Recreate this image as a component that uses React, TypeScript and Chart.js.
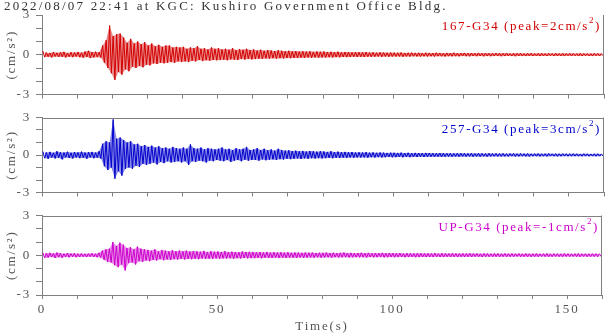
import React, { useEffect, useRef } from "react";
import { Chart, registerables } from "chart.js";

Chart.register(...registerables);

// ---------------- DATA ----------------
const TITLE = "2022/08/07 22:41 at KGC: Kushiro Government Office Bldg.";
const CHANNEL_NAMES = ["167-G34", "257-G34", "UP-G34"];
const PEAK_LABELS = ["2", "3", "-1"];
const UNIT_LABEL = "(cm/s²)";
const X_TITLE = "Time(s)";
const X_TICK_LABELS = [0, 50, 100, 150];
const Y_TICK_LABELS = [-3, 0, 3];
const X_MIN = 0;
const X_MAX = 160;
const Y_MIN = -3;
const Y_MAX = 3;

// per-second maximum / minimum of each trace (cm/s²), bins 0..159 s
const ACC_167_MAX = [
  0.28, 0.16, 0.14, 0.2, 0.15, 0.18, 0.22, 0.14, 0.19, 0.17,
  0.21, 0.16, 0.24, 0.3, 0.2, 0.23, 0.19, 0.7, 1.1, 2.2,
  1.4, 1.55, 1.6, 1.3, 0.9, 1.2, 0.85, 1.0, 0.8, 0.95,
  0.7, 0.85, 0.65, 0.75, 0.6, 0.7, 0.7, 0.55, 0.6, 0.55,
  0.6, 0.45, 0.55, 0.5, 0.65, 0.45, 0.5, 0.4, 0.55, 0.45,
  0.5, 0.4, 0.45, 0.38, 0.5, 0.35, 0.42, 0.38, 0.45, 0.35,
  0.4, 0.32, 0.38, 0.3, 0.35, 0.33, 0.28, 0.34, 0.3, 0.27,
  0.3, 0.26, 0.28, 0.25, 0.27, 0.24, 0.26, 0.22, 0.25, 0.23,
  0.24, 0.21, 0.22, 0.2, 0.23, 0.19, 0.21, 0.2, 0.18, 0.2,
  0.19, 0.18, 0.2, 0.17, 0.18, 0.16, 0.18, 0.17, 0.16, 0.17,
  0.16, 0.15, 0.17, 0.14, 0.15, 0.16, 0.14, 0.15, 0.13, 0.15,
  0.14, 0.13, 0.15, 0.14, 0.12, 0.14, 0.13, 0.15, 0.12, 0.13,
  0.14, 0.12, 0.13, 0.12, 0.14, 0.11, 0.13, 0.12, 0.11, 0.13,
  0.12, 0.11, 0.13, 0.1, 0.12, 0.11, 0.12, 0.1, 0.11, 0.12,
  0.1, 0.11, 0.12, 0.1, 0.11, 0.1, 0.12, 0.1, 0.11, 0.1,
  0.11, 0.1, 0.09, 0.11, 0.1, 0.1, 0.09, 0.11, 0.1, 0.09,
];
const ACC_167_MIN = [
  -0.18, -0.15, -0.2, -0.14, -0.17, -0.16, -0.2, -0.15, -0.18, -0.14,
  -0.19, -0.22, -0.17, -0.25, -0.2, -0.18, -0.21, -0.6, -1.0, -1.4,
  -1.9, -1.3, -1.5, -1.1, -1.25, -0.9, -1.0, -0.85, -0.95, -0.75,
  -0.8, -0.65, -0.7, -0.6, -0.65, -0.6, -0.55, -0.62, -0.5, -0.55,
  -0.5, -0.55, -0.45, -0.5, -0.4, -0.48, -0.42, -0.45, -0.4, -0.42,
  -0.4, -0.38, -0.42, -0.35, -0.37, -0.4, -0.33, -0.36, -0.32, -0.35,
  -0.33, -0.3, -0.32, -0.28, -0.3, -0.27, -0.3, -0.26, -0.28, -0.25,
  -0.26, -0.24, -0.25, -0.22, -0.24, -0.21, -0.23, -0.2, -0.22, -0.2,
  -0.21, -0.19, -0.2, -0.18, -0.19, -0.17, -0.18, -0.17, -0.16, -0.17,
  -0.16, -0.17, -0.15, -0.16, -0.15, -0.14, -0.16, -0.14, -0.15, -0.14,
  -0.14, -0.13, -0.15, -0.13, -0.14, -0.12, -0.13, -0.14, -0.12, -0.13,
  -0.12, -0.13, -0.11, -0.12, -0.13, -0.11, -0.12, -0.11, -0.12, -0.1,
  -0.11, -0.12, -0.1, -0.11, -0.1, -0.12, -0.1, -0.11, -0.1, -0.1,
  -0.11, -0.1, -0.09, -0.1, -0.11, -0.09, -0.1, -0.1, -0.09, -0.1,
  -0.09, -0.1, -0.09, -0.1, -0.08, -0.1, -0.09, -0.09, -0.1, -0.08,
  -0.09, -0.08, -0.1, -0.09, -0.08, -0.09, -0.1, -0.08, -0.09, -0.08,
];

const ACC_257_MAX = [
  0.28, 0.2, 0.25, 0.18, 0.3, 0.22, 0.2, 0.26, 0.19, 0.24,
  0.21, 0.27, 0.2, 0.23, 0.25, 0.2, 0.3, 0.9, 1.1, 1.0,
  2.85, 1.3, 1.4, 1.2, 1.0, 1.1, 0.85, 0.9, 0.7, 0.8,
  0.65, 0.75, 0.6, 0.7, 0.55, 0.6, 0.5, 0.65, 0.55, 0.5,
  0.6, 0.5, 0.85, 0.55, 0.5, 0.6, 0.45, 0.55, 0.5, 0.45,
  0.5, 0.6, 0.45, 0.5, 0.4, 0.55, 0.45, 0.5, 0.65, 0.4,
  0.45, 0.55, 0.4, 0.5, 0.38, 0.45, 0.35, 0.5, 0.4, 0.35,
  0.38, 0.32, 0.35, 0.3, 0.33, 0.28, 0.32, 0.3, 0.27, 0.3,
  0.28, 0.25, 0.3, 0.24, 0.27, 0.23, 0.25, 0.22, 0.24, 0.21,
  0.22, 0.2, 0.23, 0.19, 0.21, 0.18, 0.2, 0.19, 0.17, 0.19,
  0.18, 0.17, 0.19, 0.16, 0.18, 0.15, 0.17, 0.16, 0.15, 0.17,
  0.16, 0.15, 0.14, 0.16, 0.15, 0.14, 0.15, 0.13, 0.15, 0.14,
  0.14, 0.13, 0.15, 0.12, 0.14, 0.13, 0.12, 0.14, 0.12, 0.13,
  0.12, 0.13, 0.11, 0.12, 0.13, 0.11, 0.12, 0.11, 0.12, 0.1,
  0.11, 0.12, 0.1, 0.11, 0.12, 0.1, 0.11, 0.1, 0.11, 0.1,
  0.1, 0.11, 0.1, 0.09, 0.11, 0.1, 0.09, 0.1, 0.1, 0.09,
];
const ACC_257_MIN = [
  -0.25, -0.3, -0.2, -0.27, -0.22, -0.35, -0.2, -0.24, -0.28, -0.2,
  -0.25, -0.22, -0.3, -0.2, -0.26, -0.22, -0.28, -0.9, -1.2, -1.0,
  -1.9, -1.3, -1.65, -1.1, -1.0, -1.1, -0.85, -0.95, -0.7, -0.8,
  -0.7, -0.6, -0.75, -0.55, -0.65, -0.5, -0.6, -0.55, -0.5, -0.6,
  -0.5, -0.8, -0.5, -0.55, -0.45, -0.5, -0.6, -0.45, -0.5, -0.4,
  -0.45, -0.5, -0.4, -0.55, -0.45, -0.4, -0.5, -0.38, -0.45, -0.4,
  -0.4, -0.45, -0.35, -0.42, -0.38, -0.35, -0.4, -0.33, -0.36, -0.3,
  -0.33, -0.3, -0.28, -0.32, -0.27, -0.3, -0.26, -0.28, -0.25, -0.27,
  -0.25, -0.23, -0.26, -0.22, -0.24, -0.21, -0.23, -0.2, -0.22, -0.2,
  -0.2, -0.19, -0.21, -0.18, -0.2, -0.17, -0.19, -0.18, -0.16, -0.18,
  -0.17, -0.16, -0.18, -0.15, -0.17, -0.15, -0.16, -0.14, -0.16, -0.15,
  -0.14, -0.15, -0.13, -0.15, -0.14, -0.13, -0.14, -0.13, -0.14, -0.12,
  -0.13, -0.12, -0.14, -0.12, -0.13, -0.11, -0.13, -0.12, -0.11, -0.12,
  -0.12, -0.11, -0.12, -0.1, -0.12, -0.11, -0.1, -0.11, -0.12, -0.1,
  -0.1, -0.11, -0.1, -0.11, -0.09, -0.1, -0.11, -0.1, -0.09, -0.1,
  -0.1, -0.09, -0.1, -0.1, -0.09, -0.1, -0.09, -0.1, -0.09, -0.09,
];

const ACC_UP_MAX = [
  0.2, 0.15, 0.18, 0.14, 0.2, 0.16, 0.12, 0.17, 0.13, 0.15,
  0.12, 0.14, 0.11, 0.13, 0.15, 0.12, 0.18, 0.35, 0.45, 0.5,
  1.0, 0.7, 0.95, 0.8, 0.55, 0.6, 0.45, 0.65, 0.5, 0.45,
  0.4, 0.35, 0.45, 0.3, 0.4, 0.35, 0.3, 0.38, 0.3, 0.35,
  0.3, 0.35, 0.28, 0.32, 0.3, 0.27, 0.33, 0.25, 0.3, 0.27,
  0.28, 0.25, 0.3, 0.24, 0.27, 0.25, 0.23, 0.28, 0.24, 0.26,
  0.25, 0.22, 0.24, 0.21, 0.25, 0.2, 0.23, 0.21, 0.22, 0.2,
  0.22, 0.19, 0.21, 0.2, 0.18, 0.21, 0.19, 0.2, 0.17, 0.19,
  0.18, 0.2, 0.17, 0.19, 0.16, 0.18, 0.2, 0.17, 0.18, 0.16,
  0.17, 0.19, 0.16, 0.18, 0.15, 0.17, 0.16, 0.18, 0.15, 0.17,
  0.16, 0.15, 0.17, 0.14, 0.16, 0.15, 0.14, 0.16, 0.15, 0.14,
  0.15, 0.14, 0.16, 0.13, 0.15, 0.14, 0.13, 0.15, 0.14, 0.13,
  0.14, 0.13, 0.15, 0.13, 0.14, 0.12, 0.14, 0.13, 0.12, 0.14,
  0.13, 0.12, 0.14, 0.12, 0.13, 0.12, 0.13, 0.11, 0.13, 0.12,
  0.12, 0.13, 0.11, 0.12, 0.13, 0.11, 0.12, 0.12, 0.11, 0.13,
  0.12, 0.11, 0.12, 0.13, 0.11, 0.12, 0.11, 0.12, 0.12, 0.11,
];
const ACC_UP_MIN = [
  -0.2, -0.17, -0.14, -0.2, -0.15, -0.18, -0.13, -0.16, -0.12, -0.15,
  -0.13, -0.12, -0.14, -0.11, -0.13, -0.15, -0.17, -0.35, -0.5, -0.55,
  -0.75, -0.9, -0.7, -1.15, -0.6, -0.55, -0.7, -0.45, -0.5, -0.4,
  -0.45, -0.35, -0.4, -0.3, -0.38, -0.32, -0.35, -0.3, -0.33, -0.28,
  -0.32, -0.28, -0.3, -0.27, -0.3, -0.25, -0.28, -0.26, -0.27, -0.24,
  -0.26, -0.24, -0.25, -0.23, -0.26, -0.22, -0.24, -0.21, -0.23, -0.22,
  -0.22, -0.2, -0.23, -0.19, -0.21, -0.2, -0.19, -0.21, -0.18, -0.2,
  -0.19, -0.18, -0.2, -0.17, -0.19, -0.18, -0.17, -0.18, -0.16, -0.18,
  -0.17, -0.16, -0.18, -0.15, -0.17, -0.16, -0.15, -0.17, -0.16, -0.15,
  -0.16, -0.15, -0.17, -0.14, -0.16, -0.15, -0.14, -0.16, -0.15, -0.14,
  -0.15, -0.14, -0.13, -0.15, -0.14, -0.13, -0.15, -0.14, -0.13, -0.14,
  -0.13, -0.14, -0.12, -0.13, -0.14, -0.12, -0.13, -0.12, -0.14, -0.12,
  -0.13, -0.12, -0.13, -0.11, -0.12, -0.13, -0.11, -0.12, -0.12, -0.11,
  -0.12, -0.11, -0.12, -0.11, -0.12, -0.1, -0.12, -0.11, -0.11, -0.12,
  -0.11, -0.12, -0.1, -0.11, -0.12, -0.11, -0.1, -0.11, -0.12, -0.1,
  -0.11, -0.1, -0.11, -0.12, -0.1, -0.11, -0.11, -0.1, -0.11, -0.1,
];

// ---------------- STYLE ----------------
const FONT = "'Liberation Serif', 'Times New Roman', serif";
const AXIS_COLOR = "#808080";
const TEXT_COLOR = "#555555";
const TITLE_COLOR = "#333333";
const TRACE_COLORS = ["#d20000", "#0000cc", "#cc00cc"];
const TRACE_FILLS = ["rgba(210,0,0,0.45)", "rgba(0,0,204,0.45)", "rgba(204,0,204,0.45)"];

// zig-zag trace through the maximum and minimum of every one-second bin
function buildTrace(maxArr: number[], minArr: number[]) {
  const pts: { x: number; y: number }[] = [];
  maxArr.forEach((mx, i) => {
    pts.push({ x: i + 0.25, y: mx });
    pts.push({ x: i + 0.75, y: minArr[i] });
  });
  return pts;
}
function buildEnvelope(arr: number[], off: number) {
  return arr.map((v, i) => ({ x: i + off, y: v }));
}

type PanelProps = {
  index: number;
  top: number;
  height: number;
  padTop: number;
  xAxisHeight: number;
  maxArr: number[];
  minArr: number[];
  showTitle: boolean;
  showXLabels: boolean;
  topBorder: boolean;
};

function Panel(p: PanelProps) {
  const ref = useRef<HTMLCanvasElement>(null);
  useEffect(() => {
    const canvas = ref.current;
    if (!canvas) return;
    const color = TRACE_COLORS[p.index];
    const fillColor = TRACE_FILLS[p.index];
    const name = CHANNEL_NAMES[p.index];
    const peak = PEAK_LABELS[p.index];

    const decor = {
      id: "decor",
      beforeDraw(chart: any) {
        chart.ctx.letterSpacing = "1.8px";
      },
      afterDraw(chart: any) {
        const { ctx, chartArea: a } = chart;
        ctx.save();
        ctx.letterSpacing = "0px";
        ctx.strokeStyle = AXIS_COLOR;
        ctx.lineWidth = 1;
        ctx.beginPath();
        if (p.topBorder) {
          const ty = Math.round(a.top) + 0.5;
          ctx.moveTo(a.left, ty);
          ctx.lineTo(a.right, ty);
        }
        const rx = Math.round(a.right) - 0.5;
        ctx.moveTo(rx, a.top);
        ctx.lineTo(rx, a.bottom);
        ctx.stroke();

        ctx.textBaseline = "alphabetic";
        ctx.textAlign = "left";

        if (p.showTitle) {
          ctx.fillStyle = TITLE_COLOR;
          ctx.letterSpacing = "2.2px";
          ctx.font = `13px ${FONT}`;
          ctx.fillText(TITLE, 4, 10);
        }

        ctx.fillStyle = color;
        ctx.letterSpacing = "1.6px";
        const main = `${name} (peak=${peak}cm/s`;
        ctx.font = `13px ${FONT}`;
        const wClose = ctx.measureText(")").width;
        const wMain = ctx.measureText(main).width;
        ctx.font = `9px ${FONT}`;
        const wSup = ctx.measureText("2").width;
        let x = a.right - 3 - wClose - wSup - wMain;
        const y = a.top + 15;
        ctx.font = `13px ${FONT}`;
        ctx.fillText(main, x, y);
        x += wMain;
        ctx.font = `9px ${FONT}`;
        ctx.fillText("2", x, y - 7);
        x += wSup;
        ctx.font = `13px ${FONT}`;
        ctx.fillText(")", x, y);
        ctx.restore();
      },
    };

    const chart = new Chart(canvas, {
      type: "line",
      data: {
        datasets: [
          {
            label: name + " max",
            data: buildEnvelope(p.maxArr, 0.25),
            borderWidth: 0,
            borderColor: "rgba(0,0,0,0)",
            pointRadius: 0,
            tension: 0,
            fill: false,
          },
          {
            label: name + " min",
            data: buildEnvelope(p.minArr, 0.75),
            borderWidth: 0,
            borderColor: "rgba(0,0,0,0)",
            backgroundColor: fillColor,
            pointRadius: 0,
            tension: 0,
            fill: "-1",
          },
          {
            label: name,
            data: buildTrace(p.maxArr, p.minArr),
            borderColor: color,
            borderWidth: 1,
            pointRadius: 0,
            tension: 0,
            fill: false,
          },
        ],
      },
      options: {
        responsive: false,
        animation: false,
        events: [],
        layout: { padding: { top: p.showTitle ? 15 : p.padTop, left: 4, right: 1, bottom: 0 } },
        plugins: {
          legend: { display: false },
          tooltip: { enabled: false },
          title: { display: false },
        },
        scales: {
          x: {
            type: "linear",
            min: X_MIN,
            max: X_MAX,
            afterFit: (s: any) => {
              s.height = p.xAxisHeight;
            },
            ticks: {
              display: p.showXLabels,
              stepSize: 10,
              autoSkip: false,
              maxRotation: 0,
              padding: 3,
              color: TEXT_COLOR,
              font: { family: FONT, size: 13 },
              callback: (v: any) => (X_TICK_LABELS.includes(Number(v)) ? String(v) : ""),
            },
            grid: {
              drawOnChartArea: false,
              drawTicks: true,
              tickLength: 4,
              color: AXIS_COLOR,
            },
            border: { display: true, color: AXIS_COLOR, width: 1 },
            title: {
              display: p.showXLabels,
              text: X_TITLE,
              color: TEXT_COLOR,
              font: { family: FONT, size: 13 },
              padding: { top: 0, bottom: 0 },
            },
          },
          y: {
            type: "linear",
            min: Y_MIN,
            max: Y_MAX,
            afterFit: (s: any) => {
              s.width = 38;
            },
            ticks: {
              stepSize: 1,
              autoSkip: false,
              padding: 5,
              color: TEXT_COLOR,
              font: { family: FONT, size: 13, lineHeight: 1 },
              callback: (v: any) => (Y_TICK_LABELS.includes(Number(v)) ? String(v) : ""),
            },
            grid: {
              drawOnChartArea: false,
              drawTicks: true,
              tickLength: 6,
              color: AXIS_COLOR,
            },
            border: { display: true, color: AXIS_COLOR, width: 1 },
            title: {
              display: true,
              text: UNIT_LABEL,
              color: TEXT_COLOR,
              font: { family: FONT, size: 13 },
              padding: { top: 0, bottom: 0 },
            },
          },
        },
      },
      plugins: [decor],
    } as any);
    return () => chart.destroy();
  }, []);

  return (
    <canvas
      ref={ref}
      width={605}
      height={p.height}
      style={{ position: "absolute", left: 0, top: p.top, width: 605, height: p.height }}
    />
  );
}

export default function App() {
  return (
    <div style={{ position: "absolute", left: 0, top: 0, width: 605, height: 334, background: "#ffffff", overflow: "hidden" }}>
      <Panel index={0} top={0} height={106} padTop={15} xAxisHeight={7} maxArr={ACC_167_MAX} minArr={ACC_167_MIN} showTitle={true} showXLabels={false} topBorder={false} />
      <Panel index={1} top={106} height={98} padTop={7} xAxisHeight={7} maxArr={ACC_257_MAX} minArr={ACC_257_MIN} showTitle={false} showXLabels={false} topBorder={true} />
      <Panel index={2} top={204} height={130} padTop={7} xAxisHeight={39} maxArr={ACC_UP_MAX} minArr={ACC_UP_MIN} showTitle={false} showXLabels={true} topBorder={true} />
    </div>
  );
}
